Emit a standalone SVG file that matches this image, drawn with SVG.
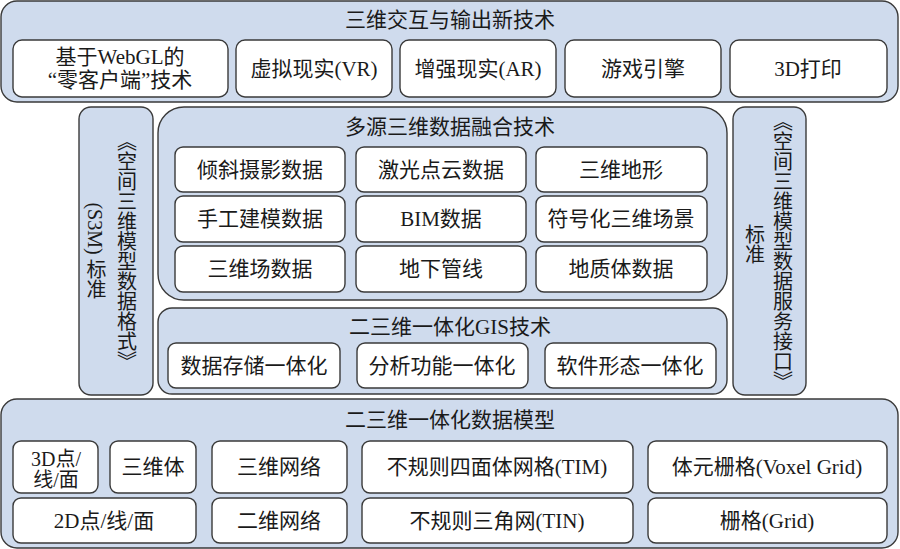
<svg xmlns="http://www.w3.org/2000/svg" width="900" height="549" viewBox="0 0 900 549">
<style>
.outer{fill:#cfdbed;stroke:#3a3a3a;stroke-width:1.4}
.inner{fill:#ffffff;stroke:#3a3a3a;stroke-width:1.4}
text{font-family:"Liberation Serif","Noto Sans CJK SC",serif;font-size:21px;fill:#1a1a1a;text-anchor:middle}
.v{writing-mode:vertical-rl;font-size:20px}
.vc{font-family:"Noto Sans CJK SC",sans-serif;text-orientation:upright;font-feature-settings:"vert" 1}
.sm{font-size:20px}
</style>
<rect width="900" height="549" fill="#ffffff"/>
<g id="top">
<rect class="outer" x="1" y="1" width="897" height="101" rx="16"/>
<text x="450" y="27">三维交互与输出新技术</text>
<g id="webgl"><rect class="inner" x="13" y="40" width="215" height="57" rx="9"/>
<text x="120" y="64">基于WebGL的</text><text x="120" y="87">“零客户端”技术</text></g>
<g id="vr"><rect class="inner" x="236" y="40" width="156" height="57" rx="9"/><text x="314" y="76">虚拟现实(VR)</text></g>
<g id="ar"><rect class="inner" x="400" y="40" width="156" height="57" rx="9"/><text x="478" y="76">增强现实(AR)</text></g>
<g id="game"><rect class="inner" x="565" y="40" width="156" height="57" rx="9"/><text x="643" y="76">游戏引擎</text></g>
<g id="print3d"><rect class="inner" x="730" y="40" width="157" height="57" rx="9"/><text x="808" y="76">3D打印</text></g>
</g>
<g id="s3m">
<rect class="outer" x="79" y="107" width="74" height="288" rx="12"/>
<text class="v vc" x="127" y="251">《空间三维模型数据格式》</text>
<text class="v" x="95" y="251">(S3M) 标准</text>
</g>
<g id="service">
<rect class="outer" x="733" y="107" width="73" height="288" rx="12"/>
<text class="v vc" x="783" y="251">《空间三维模型数据服务接口》</text>
<text class="v vc" x="755" y="244">标准</text>
</g>
<g id="fusion">
<rect class="outer" x="158" y="107" width="569" height="193" rx="26"/>
<text x="450" y="134">多源三维数据融合技术</text>
<g id="oblique"><rect class="inner" x="175" y="147" width="170" height="45" rx="8"/><text x="260" y="177">倾斜摄影数据</text></g>
<g id="lidar"><rect class="inner" x="356" y="147" width="170" height="45" rx="8"/><text x="441" y="177">激光点云数据</text></g>
<g id="terrain"><rect class="inner" x="536" y="147" width="171" height="45" rx="8"/><text x="621" y="177">三维地形</text></g>
<g id="manual"><rect class="inner" x="175" y="196" width="170" height="46" rx="8"/><text x="260" y="226">手工建模数据</text></g>
<g id="bim"><rect class="inner" x="356" y="196" width="170" height="46" rx="8"/><text x="441" y="226">BIM数据</text></g>
<g id="symbol"><rect class="inner" x="536" y="196" width="171" height="46" rx="8"/><text x="621" y="226">符号化三维场景</text></g>
<g id="field"><rect class="inner" x="175" y="246" width="170" height="46" rx="8"/><text x="260" y="276">三维场数据</text></g>
<g id="pipe"><rect class="inner" x="356" y="246" width="170" height="46" rx="8"/><text x="441" y="276">地下管线</text></g>
<g id="geo"><rect class="inner" x="536" y="246" width="171" height="46" rx="8"/><text x="621" y="276">地质体数据</text></g>
</g>
<g id="gis">
<rect class="outer" x="158" y="308" width="569" height="86" rx="14"/>
<text x="450" y="334">二三维一体化GIS技术</text>
<g id="storage"><rect class="inner" x="168" y="343" width="172" height="45" rx="8"/><text x="254" y="373">数据存储一体化</text></g>
<g id="analysis"><rect class="inner" x="357" y="343" width="171" height="45" rx="8"/><text x="442" y="373">分析功能一体化</text></g>
<g id="software"><rect class="inner" x="545" y="343" width="171" height="45" rx="8"/><text x="630" y="373">软件形态一体化</text></g>
</g>
<g id="model">
<rect class="outer" x="1" y="399" width="897" height="149" rx="16"/>
<text x="450" y="427">二三维一体化数据模型</text>
<g id="p3d"><rect class="inner" x="13" y="441" width="85" height="52" rx="8"/><text class="sm" x="56" y="466">3D点/</text><text class="sm" x="56" y="487">线/面</text></g>
<g id="solid"><rect class="inner" x="110" y="441" width="86" height="52" rx="8"/><text x="153" y="474">三维体</text></g>
<g id="net3d"><rect class="inner" x="212" y="441" width="135" height="52" rx="8"/><text x="279" y="474">三维网络</text></g>
<g id="tim"><rect class="inner" x="362" y="441" width="271" height="52" rx="8"/><text x="497" y="474">不规则四面体网格(TIM)</text></g>
<g id="voxel"><rect class="inner" x="648" y="441" width="239" height="52" rx="8"/><text x="767" y="474">体元栅格(Voxel Grid)</text></g>
<g id="p2d"><rect class="inner" x="13" y="498" width="183" height="45" rx="8"/><text x="104" y="528">2D点/线/面</text></g>
<g id="net2d"><rect class="inner" x="212" y="498" width="135" height="45" rx="8"/><text x="279" y="528">二维网络</text></g>
<g id="tin"><rect class="inner" x="362" y="498" width="271" height="45" rx="8"/><text x="497" y="528">不规则三角网(TIN)</text></g>
<g id="grid"><rect class="inner" x="648" y="498" width="239" height="45" rx="8"/><text x="767" y="528">栅格(Grid)</text></g>
</g>
<g id="connectors"/>
</svg>
